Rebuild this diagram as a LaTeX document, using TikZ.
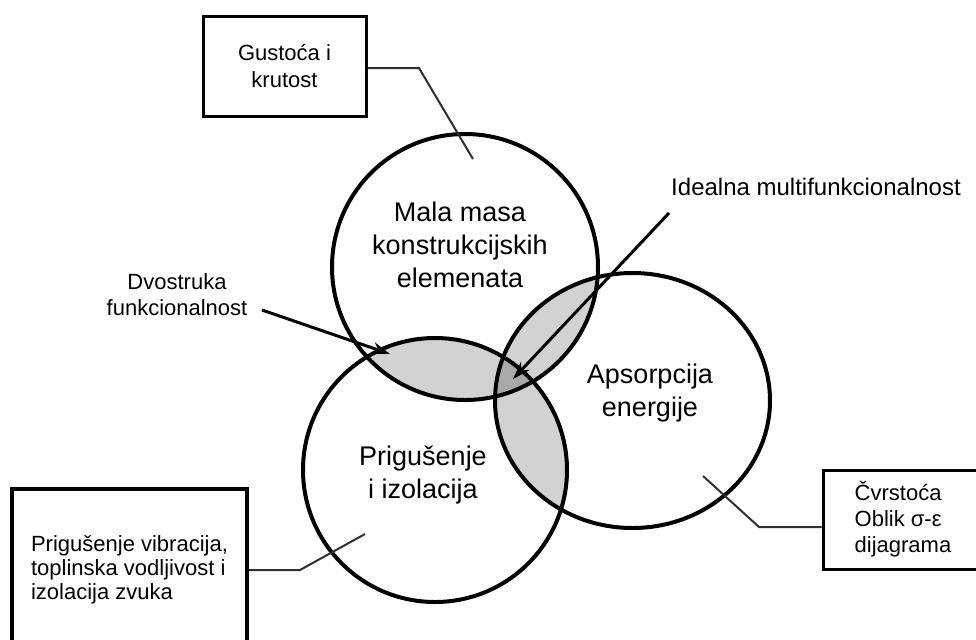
\documentclass[tikz,border=0pt]{standalone}
\usepackage{fontspec}
\setmainfont{Liberation Sans}
\usetikzlibrary{positioning,shapes,arrows.meta}
\definecolor{overlap}{HTML}{D2D2D2}
\definecolor{core}{HTML}{A8A8A8}
\definecolor{leader}{HTML}{303030}

\begin{document}
\begin{tikzpicture}[%
        x=0.5pt, y=-0.5pt,
        >={Stealth[length=9pt,width=6pt]},
        ring/.style={%
          circle,
          draw,
          line width=2pt,
          minimum size=#1,
          inner sep=0pt
        },
        oval/.style={%
          ellipse,
          draw,
          line width=2pt,
          minimum width=137.5pt,
          minimum height=127.5pt,
          inner sep=0pt
        },
        inlabel/.style={align=center, font=\fontsize{13.5}{16.5}\selectfont},
        note/.style={rectangle, draw, line width=1.5pt, inner sep=0pt},
        tag/.style={align=center, font=\fontsize{11}{13}\selectfont},
        lead/.style={draw=leader, line width=1pt},
        pointer/.style={->, line width=1.5pt}
      ]
      \clip (0,0) rectangle (976,639);

      % centres of the three fields
      \coordinate (cmasa) at (465,267);
      \coordinate (cprig) at (435,470);
      \coordinate (caps) at (632.5,400.5);

      % shaded overlaps
      \begin{scope}
        \clip (cmasa) circle[radius=66.5pt];
        \fill[overlap] (cprig) circle[radius=66pt];
        \fill[overlap] (caps) ellipse[x radius=68.75pt, y radius=63.75pt];
      \end{scope}
      \begin{scope}
        \clip (cprig) circle[radius=66pt];
        \fill[overlap] (caps) ellipse[x radius=68.75pt, y radius=63.75pt];
        \clip (cmasa) circle[radius=66.5pt];
        \fill[core] (caps) ellipse[x radius=68.75pt, y radius=63.75pt];
      \end{scope}

      \node[ring=133pt] (masa) at (cmasa) {};
      \node[ring=132pt] (prig) at (cprig) {};
      \node[oval] (aps) at (caps) {};

      \node[inlabel] (masatxt) at (460,245) {Mala masa\\konstrukcijskih\\elemenata};
      \node[inlabel] (prigtxt) at (423,475) {Prigušenje\\i izolacija};
      \node[inlabel] (apstxt) at (650,393) {Apsorpcija\\energije};

      % boxes
      \node[note, minimum width=81.5pt, minimum height=50pt, align=center,
            font=\fontsize{11}{13.5}\selectfont] (gus) at (284.5,66) {Gustoća i\\krutost};
      \node[note, line width=2pt, minimum width=117.5pt, minimum height=81pt, align=left,
            font=\fontsize{11}{12}\selectfont] (vib) at (129.5,570)
            {Prigušenje vibracija,\\toplinska vodljivost i\\izolacija zvuka};
      \node[note, minimum width=80pt, minimum height=49.5pt, align=left,
            font=\fontsize{11}{13}\selectfont] (cvr) at (903,519.5)
            {Čvrstoća\\Oblik σ-ε\\dijagrama};

      \node[tag] (dvo) at (177,295) {Dvostruka\\funkcionalnost};
      \node[tag, font=\fontsize{12}{14}\selectfont] (ideal) at (816,187) {Idealna multifunkcionalnost};

      % leader lines
      \coordinate (gusknee) at (419,68);
      \coordinate (gusend) at (473,159);
      \draw[lead] (gus.east |- gusknee) -- (gusknee) -- (gusend);
      \coordinate (vibknee) at (300,570);
      \coordinate (vibend) at (365,534);
      \draw[lead] (vib.east |- vibknee) -- (vibknee) -- (vibend);
      \coordinate (cvrknee) at (759,527);
      \coordinate (cvrend) at (703,476);
      \draw[lead] (cvr.west |- cvrknee) -- (cvrknee) -- (cvrend);

      % arrows
      \coordinate (dvofrom) at (262,310);
      \coordinate (dvotip) at (390,354);
      \draw[pointer] (dvofrom) -- (dvotip);
      \coordinate (idealfrom) at (669,213);
      \coordinate (idealtip) at (513,379);
      \draw[pointer] (idealfrom) -- (idealtip);
    \end{tikzpicture}
\end{document}
